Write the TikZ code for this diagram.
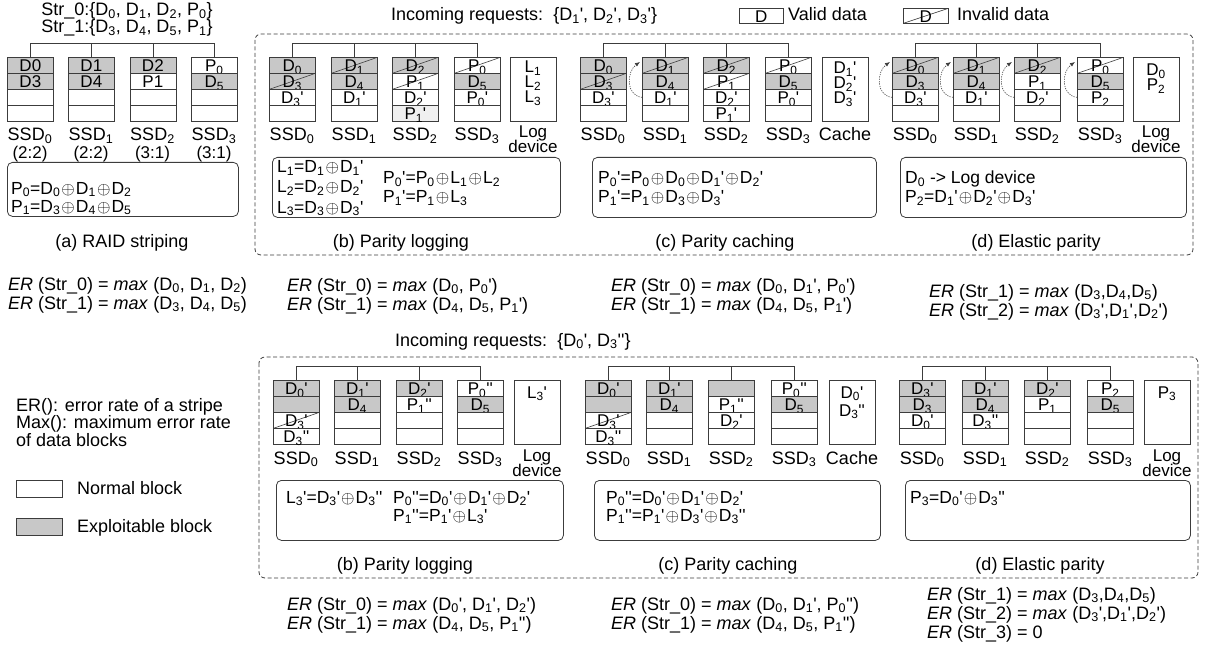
\documentclass[tikz,border=0pt]{standalone}
\usepackage{fontspec}
\newfontfamily\lsans{Liberation Sans}[Ligatures=TeXOff]
\usetikzlibrary{arrows.meta}
\definecolor{cg}{RGB}{200,200,200}
\definecolor{ln}{RGB}{60,60,60}
\newcommand\sbs[1]{\textsubscript{#1}}
\newcommand\xo{\kern1.1pt$\oplus$\kern1.1pt}
\newcommand\ssdcol[5]{%
  \foreach \cst/\ctx [count=\r from 1] in {#4}{%
    \node[cell,sty=\cst] (#1r\r) at (#2,{#3+16*(\r-1)}) {\ctx};}%
  \node[lb] (#1lab) at ({#2+23},{#3+84}) {#5};}
\newcommand\sidebox[3]{\node[cell,minimum height=64pt] (#1) at (#2,#3) {};}
\newcommand\tree[4]{%
  \draw[tl] (#1r1.north) -- ++(0,-14) -| (#4r1.north);
  \draw[tl] (#2r1.north) -- ++(0,-14);
  \draw[tl] (#3r1.north) -- ++(0,-14);}
\newcommand\parr[1]{\draw[darr] (#1r3.west) .. controls +(-17,-2) and +(-13,9) .. ([shift={(-2,5)}]#1r1.north west);}
\begin{document}
\begin{tikzpicture}[x=1pt,y=-1pt,
  every node/.style={font=\lsans\fontsize{18}{20}\selectfont, text=black, inner sep=0pt},
  sty/.code={\edef\tmpsty{#1}\expandafter\pgfkeysalso\expandafter{\tmpsty}},
  cell/.style={draw=ln, line width=0.7pt, minimum width=46pt, minimum height=16pt, anchor=north west,
    font=\lsans\fontsize{17}{17}\selectfont, text height=12.6pt, text depth=0pt},
  w/.style={fill=white},
  g/.style={fill=cg},
  lg/.style={fill=gray!12},
  struck/.style={path picture={\draw[ln,line width=0.6pt] (path picture bounding box.south west) -- (path picture bounding box.north east);}},
  ws/.style={fill=white,struck},
  gs/.style={fill=cg,struck},
  tl/.style={draw=ln, line width=0.7pt},
  fbox/.style={draw=ln, line width=0.8pt, rounded corners=5pt, anchor=north west},
  dbox/.style={draw=ln, line width=0.8pt, rounded corners=6pt, dash pattern=on 4pt off 2.5pt},
  darr/.style={draw=ln, line width=0.6pt, dash pattern=on 1.2pt off 1.2pt, -{Latex[length=5pt,width=4pt]}},
  lb/.style={anchor=base},
  lbs/.style={anchor=base, font=\lsans\fontsize{17}{17}\selectfont},
  tx/.style={anchor=base west},
  fx/.style={anchor=base west, font=\lsans\fontsize{17.5}{18}\selectfont},
  bx/.style={font=\lsans\fontsize{17}{17}\selectfont, anchor=base},
]
\useasboundingbox (0,0) rectangle (1212,655);

% ---------- (a) RAID striping ----------
\node[lb] (s0) at (127,16) {Str\_0:\{D\sbs{0}, D\sbs{1}, D\sbs{2}, P\sbs{0}\}};
\node[lb] (s1) at (127,33) {Str\_1:\{D\sbs{3}, D\sbs{4}, D\sbs{5}, P\sbs{1}\}};
\ssdcol{aa}{7}{57}{g/D0,g/D3,w/,w/}{SSD\sbs{0}}
\ssdcol{ab}{68}{57}{g/D1,g/D4,w/,w/}{SSD\sbs{1}}
\ssdcol{ac}{129.5}{57}{g/D2,w/P1,w/,w/}{SSD\sbs{2}}
\ssdcol{ad}{191}{57}{w/P\sbs{0},g/D\sbs{5},w/,w/}{SSD\sbs{3}}
\tree{aa}{ab}{ac}{ad}
\node[lbs] (aax) at (30,158.5) {(2:2)};
\node[lbs] (abx) at (91,158.5) {(2:2)};
\node[lbs] (acx) at (152.5,158.5) {(3:1)};
\node[lbs] (adx) at (214,158.5) {(3:1)};
\node[fbox, minimum width=231pt, minimum height=54pt] (fa) at (7,162) {};
\node[fx] (fa1) at (11,194) {P\sbs{0}=D\sbs{0}\xo D\sbs{1}\xo D\sbs{2}};
\node[fx] (fa2) at (11,212) {P\sbs{1}=D\sbs{3}\xo D\sbs{4}\xo D\sbs{5}};
\node[lb] (capa) at (122,247) {(a) RAID striping};
\node[tx] (era0) at (8,290) {\textit{ER} (Str\_0) = \textit{max} (D\sbs{0}, D\sbs{1}, D\sbs{2})};
\node[tx] (era1) at (8,309) {\textit{ER} (Str\_1) = \textit{max} (D\sbs{3}, D\sbs{4}, D\sbs{5})};

% ---------- legends ----------
\node[tx] (inc1) at (391,21) {Incoming requests:\ \ \{D\sbs{1}', D\sbs{2}', D\sbs{3}'\}};
\node[cell, minimum width=44pt, minimum height=15pt] (vld) at (739,8) {D};
\node[tx] (vldt) at (788,21) {Valid data};
\node[cell, ws, minimum width=45pt, minimum height=15pt] (inv) at (903,8) {D};
\node[tx] (invt) at (957,21) {Invalid data};

\node[tx] (def1) at (16,411) {ER(): error rate of a stripe};
\node[tx] (def2) at (16,428) {Max(): maximum error rate};
\node[tx] (def3) at (16,446) {of data blocks};
\node[cell, minimum width=46pt, minimum height=17pt] (nbk) at (16,480) {};
\node[tx] (nbkt) at (77,494) {Normal block};
\node[cell, g, minimum width=46pt, minimum height=17pt] (ebk) at (16,518) {};
\node[tx] (ebkt) at (77,532) {Exploitable block};

% ---------- top dashed frame ----------
\draw[dbox] (255,34) rectangle (1193,255);

% (b) parity logging
\ssdcol{ba}{269}{57}{g/D\sbs{0},gs/D\sbs{3},w/D\sbs{3}',w/}{SSD\sbs{0}}
\ssdcol{bb}{331}{57}{gs/D\sbs{1},g/D\sbs{4},w/D\sbs{1}',w/}{SSD\sbs{1}}
\ssdcol{bc}{392}{57}{gs/D\sbs{2},ws/P\sbs{1},w/D\sbs{2}',lg/P\sbs{1}'}{SSD\sbs{2}}
\ssdcol{bd}{454}{57}{ws/P\sbs{0},g/D\sbs{5},w/P\sbs{0}',w/}{SSD\sbs{3}}
\tree{ba}{bb}{bc}{bd}
\sidebox{bL}{510}{57}
\node[bx] (bL1) at (533,73) {L\sbs{1}};
\node[bx] (bL2) at (533,88) {L\sbs{2}};
\node[bx] (bL3) at (533,103) {L\sbs{3}};
\node[lbs] (bLa) at (533,138) {Log};
\node[lbs] (bLb) at (533,153) {device};
\node[fbox, minimum width=288pt, minimum height=60pt] (fb) at (272,157) {};
\node[fx] (fb1) at (277,173) {L\sbs{1}=D\sbs{1}\xo D\sbs{1}'};
\node[fx] (fb2) at (277,193) {L\sbs{2}=D\sbs{2}\xo D\sbs{2}'};
\node[fx] (fb3) at (277,213) {L\sbs{3}=D\sbs{3}\xo D\sbs{3}'};
\node[fx] (fb4) at (383,184) {P\sbs{0}'=P\sbs{0}\xo L\sbs{1}\xo L\sbs{2}};
\node[fx] (fb5) at (383,203) {P\sbs{1}'=P\sbs{1}\xo L\sbs{3}};
\node[lb] (capb) at (401,247) {(b) Parity logging};
\node[tx] (erb0) at (287,291) {\textit{ER} (Str\_0) = \textit{max} (D\sbs{0}, P\sbs{0}')};
\node[tx] (erb1) at (287,310) {\textit{ER} (Str\_1) = \textit{max} (D\sbs{4}, D\sbs{5}, P\sbs{1}')};

% (c) parity caching
\ssdcol{ca}{580}{57}{g/D\sbs{0},gs/D\sbs{3},w/D\sbs{3}',w/}{SSD\sbs{0}}
\ssdcol{cb}{642}{57}{gs/D\sbs{1},g/D\sbs{4},w/D\sbs{1}',w/}{SSD\sbs{1}}
\ssdcol{cc}{703}{57}{gs/D\sbs{2},ws/P\sbs{1},w/D\sbs{2}',w/P\sbs{1}'}{SSD\sbs{2}}
\ssdcol{cd}{765}{57}{ws/P\sbs{0},g/D\sbs{5},w/P\sbs{0}',w/}{SSD\sbs{3}}
\tree{ca}{cb}{cc}{cd}
\parr{cb}
\sidebox{cL}{822}{57}
\node[bx] (cL1) at (845,74) {D\sbs{1}'};
\node[bx] (cL2) at (845,89) {D\sbs{2}'};
\node[bx] (cL3) at (845,104) {D\sbs{3}'};
\node[lb] (cLa) at (845,141) {Cache};
\node[fbox, minimum width=284pt, minimum height=60pt] (fc) at (592,157) {};
\node[fx] (fc1) at (598,184) {P\sbs{0}'=P\sbs{0}\xo D\sbs{0}\xo D\sbs{1}'\xo D\sbs{2}'};
\node[fx] (fc2) at (598,203) {P\sbs{1}'=P\sbs{1}\xo D\sbs{3}\xo D\sbs{3}'};
\node[lb] (capc) at (725,247) {(c) Parity caching};
\node[tx] (erc0) at (611,291) {\textit{ER} (Str\_0) = \textit{max} (D\sbs{0}, D\sbs{1}', P\sbs{0}')};
\node[tx] (erc1) at (611,310) {\textit{ER} (Str\_1) = \textit{max} (D\sbs{4}, D\sbs{5}, P\sbs{1}')};

% (d) elastic parity
\ssdcol{da}{892}{57}{gs/D\sbs{0},g/D\sbs{3},w/D\sbs{3}',w/}{SSD\sbs{0}}
\ssdcol{db}{953}{57}{gs/D\sbs{1},g/D\sbs{4},w/D\sbs{1}',w/}{SSD\sbs{1}}
\ssdcol{dc}{1014}{57}{gs/D\sbs{2},w/P\sbs{1},w/D\sbs{2}',w/}{SSD\sbs{2}}
\ssdcol{dd}{1077}{57}{ws/P\sbs{0},g/D\sbs{5},w/P\sbs{2},w/}{SSD\sbs{3}}
\tree{da}{db}{dc}{dd}
\parr{da}\parr{db}\parr{dc}\parr{dd}
\sidebox{dL}{1133}{57}
\node[bx] (dL1) at (1156,76) {D\sbs{0}};
\node[bx] (dL2) at (1156,91) {P\sbs{2}};
\node[lbs] (dLa) at (1156,138) {Log};
\node[lbs] (dLb) at (1156,153) {device};
\node[fbox, minimum width=286pt, minimum height=60pt] (fd) at (900,157) {};
\node[fx] (fd1) at (905,184) {D\sbs{0} -> Log device};
\node[fx] (fd2) at (905,203) {P\sbs{2}=D\sbs{1}'\xo D\sbs{2}'\xo D\sbs{3}'};
\node[lb] (capd) at (1036,247) {(d) Elastic parity};
\node[tx] (erd0) at (929,297) {\textit{ER} (Str\_1) = \textit{max} (D\sbs{3},D\sbs{4},D\sbs{5})};
\node[tx] (erd1) at (929,316) {\textit{ER} (Str\_2) = \textit{max} (D\sbs{3}',D\sbs{1}',D\sbs{2}')};

% ---------- bottom ----------
\node[tx] (inc2) at (395,346) {Incoming requests:\ \ \{D\sbs{0}', D\sbs{3}''\}};
\draw[dbox] (259,357) rectangle (1198,578);

% (b)
\ssdcol{ea}{273}{380}{g/D\sbs{0}',g/,ws/D\sbs{3}',w/D\sbs{3}''}{SSD\sbs{0}}
\ssdcol{eb}{334}{380}{g/D\sbs{1}',g/D\sbs{4},w/,w/}{SSD\sbs{1}}
\ssdcol{ec}{396}{380}{g/D\sbs{2}',w/P\sbs{1}'',w/,w/}{SSD\sbs{2}}
\ssdcol{ed}{457}{380}{w/P\sbs{0}'',g/D\sbs{5},w/,w/}{SSD\sbs{3}}
\tree{ea}{eb}{ec}{ed}
\sidebox{eL}{514}{380}
\node[bx] (eL1) at (537,398) {L\sbs{3}'};
\node[lbs] (eLa) at (537,461) {Log};
\node[lbs] (eLb) at (537,476) {device};
\node[fbox, minimum width=287pt, minimum height=60pt] (fe) at (276,480) {};
\node[fx] (fe1) at (286,503) {L\sbs{3}'=D\sbs{3}'\xo D\sbs{3}''};
\node[fx] (fe2) at (393,503) {P\sbs{0}''=D\sbs{0}'\xo D\sbs{1}'\xo D\sbs{2}'};
\node[fx] (fe3) at (393,521) {P\sbs{1}''=P\sbs{1}'\xo L\sbs{3}'};
\node[lb] (cape) at (405,570) {(b) Parity logging};
\node[tx] (ere0) at (287,610) {\textit{ER} (Str\_0) = \textit{max} (D\sbs{0}', D\sbs{1}', D\sbs{2}')};
\node[tx] (ere1) at (287,629) {\textit{ER} (Str\_1) = \textit{max} (D\sbs{4}, D\sbs{5}, P\sbs{1}'')};

% (c)
\ssdcol{fa}{585}{380}{g/D\sbs{0}',g/,ws/D\sbs{3}',w/D\sbs{3}''}{SSD\sbs{0}}
\ssdcol{fb}{646}{380}{g/D\sbs{1}',g/D\sbs{4},w/,w/}{SSD\sbs{1}}
\ssdcol{fc}{708}{380}{g/,w/P\sbs{1}'',w/D\sbs{2}',w/}{SSD\sbs{2}}
\ssdcol{fd}{771}{380}{w/P\sbs{0}'',g/D\sbs{5},w/,w/}{SSD\sbs{3}}
\tree{fa}{fb}{fc}{fd}
\sidebox{fL}{829}{380}
\node[bx] (fL1) at (852,398) {D\sbs{0}'};
\node[bx] (fL2) at (852,416) {D\sbs{3}''};
\node[lb] (fLa) at (852,464) {Cache};
\node[fbox, minimum width=286pt, minimum height=60pt] (ff) at (594,480) {};
\node[fx] (ff1) at (606,503) {P\sbs{0}''=D\sbs{0}'\xo D\sbs{1}'\xo D\sbs{2}'};
\node[fx] (ff2) at (606,521) {P\sbs{1}''=P\sbs{1}'\xo D\sbs{3}'\xo D\sbs{3}''};
\node[lb] (capf) at (728,570) {(c) Parity caching};
\node[tx] (erf0) at (611,610) {\textit{ER} (Str\_0) = \textit{max} (D\sbs{0}, D\sbs{1}', P\sbs{0}'')};
\node[tx] (erf1) at (611,629) {\textit{ER} (Str\_1) = \textit{max} (D\sbs{4}, D\sbs{5}, P\sbs{1}'')};

% (d)
\ssdcol{ga}{899}{380}{g/D\sbs{3}',g/D\sbs{3},w/D\sbs{0}',w/}{SSD\sbs{0}}
\ssdcol{gb}{962}{380}{g/D\sbs{1}',g/D\sbs{4},w/D\sbs{3}'',w/}{SSD\sbs{1}}
\ssdcol{gc}{1024}{380}{g/D\sbs{2}',w/P\sbs{1},w/,w/}{SSD\sbs{2}}
\ssdcol{gd}{1087}{380}{w/P\sbs{2},g/D\sbs{5},w/,w/}{SSD\sbs{3}}
\tree{ga}{gb}{gc}{gd}
\sidebox{gL}{1144}{380}
\node[bx] (gL1) at (1167,398) {P\sbs{3}};
\node[lbs] (gLa) at (1167,461) {Log};
\node[lbs] (gLb) at (1167,476) {device};
\node[fbox, minimum width=285pt, minimum height=60pt] (fg) at (905,480) {};
\node[fx] (fg1) at (910,503) {P\sbs{3}=D\sbs{0}'\xo D\sbs{3}''};
\node[lb] (capg) at (1040,570) {(d) Elastic parity};
\node[tx] (erg0) at (927,600) {\textit{ER} (Str\_1) = \textit{max} (D\sbs{3},D\sbs{4},D\sbs{5})};
\node[tx] (erg1) at (927,619) {\textit{ER} (Str\_2) = \textit{max} (D\sbs{3}',D\sbs{1}',D\sbs{2}')};
\node[tx] (erg2) at (927,638) {\textit{ER} (Str\_3) = 0};
\end{tikzpicture}
\end{document}
